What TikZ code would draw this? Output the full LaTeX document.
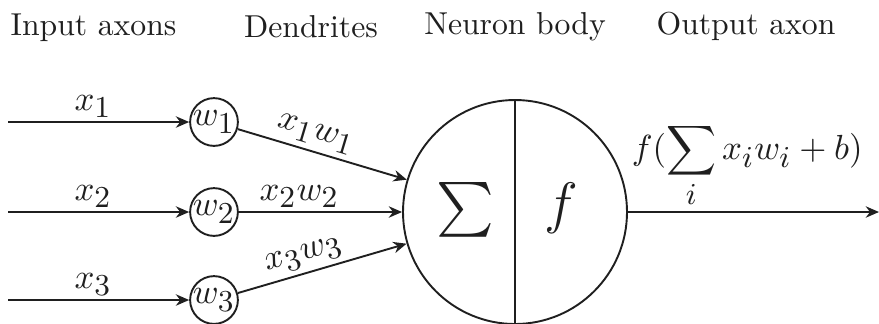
\documentclass[tikz,border=0pt]{standalone}
\usepackage{fix-cm}
\usepackage{amsmath}
\DeclareMathSizes{11}{11}{9.6}{7.5}
\usetikzlibrary{arrows.meta}
\begin{document}
\begin{tikzpicture}[x=0.3155pt,y=-0.3155pt, line width=0.6pt, color={black!88},
  arr/.style={-{Stealth[length=4.2pt,width=3.6pt]}},
  mfont/.style={font=\fontsize{11}{13}\selectfont},
  wnode/.style={circle,draw,inner sep=0pt,minimum size=14.8pt,mfont},
  head/.style={anchor=base},
  lab/.style={above,inner sep=1pt,mfont},
  big/.style={font=\fontsize{18}{20}\selectfont}]
\useasboundingbox (0,0) rectangle (879,323);
% headings
\node[head] (h1) at (93.5,35) {Input axons};
\node[head] (h2) at (311,37) {Dendrites};
\node[head] (h3) at (515,34) {Neuron body};
\node[head] (h4) at (746,34) {Output axon};
% weights
\node[wnode] (w1) at (214,122) {$w_1$};
\node[wnode] (w2) at (214,212) {$w_2$};
\node[wnode] (w3) at (214,300) {$w_3$};
\coordinate (s1) at (8,122);
\coordinate (s2) at (8,212);
\coordinate (s3) at (8,300);
% body
\node[circle,draw,minimum size=70.67pt,inner sep=0pt] (body) at (515,212) {};
\draw (body.north) -- (body.south);
\node[big] (sig) at (465,210) {$\sum$};
\node[big] (fn) at (561,208) {$f$};
\coordinate (out) at (879,212);
% inputs
\draw[arr] (s1) -- (w1) node[pos=0.47, lab] {$x_1$};
\draw[arr] (s2) -- (w2) node[pos=0.47, lab] {$x_2$};
\draw[arr] (s3) -- (w3) node[pos=0.47, lab] {$x_3$};
% dendrites
\draw[arr] (w1) -- (body) node[pos=0.43, sloped, lab, inner sep=1.5pt] {$x_1w_1$};
\draw[arr] (w2) -- (body) node[pos=0.37, lab] {$x_2w_2$};
\draw[arr] (w3) -- (body) node[pos=0.42, sloped, lab, inner sep=1.5pt] {$x_3w_3$};
% output
\draw[arr] (body) -- (out) node[pos=0.475, lab] {$\displaystyle f(\sum_i x_iw_i+b)$};
\end{tikzpicture}
\end{document}
